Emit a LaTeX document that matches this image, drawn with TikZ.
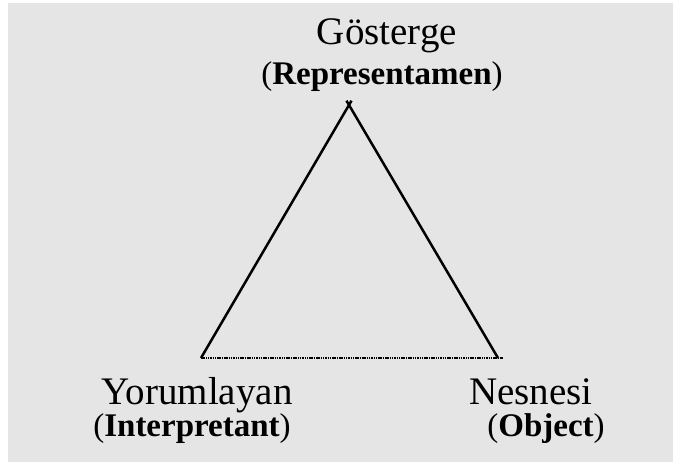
\documentclass[tikz,border=0pt]{standalone}
\usepackage{fontspec}
\setmainfont{Liberation Serif}
\usepackage{xcolor}
\definecolor{scangray}{HTML}{E5E5E5}
\usepackage{tikz}
\usetikzlibrary{positioning}

\begin{document}
\begin{tikzpicture}[x=1pt, y=1pt,
      term/.style={anchor=base, inner sep=0pt, font=\fontsize{39}{41}\selectfont},
      gloss/.style={anchor=base, inner sep=0pt, font=\fontsize{33}{35}\selectfont},
      side/.style={line width=2.5pt},
      base/.style={line width=2.2pt, dash pattern=on 1.5pt off 0.8pt}
    ]
    \useasboundingbox (0,0) rectangle (673,462);
    \fill[white] (0,0) rectangle (673,462);
    \fill[scangray] (8,0) rectangle (673,459);
    \coordinate (rep) at (349,357);
    \coordinate (int) at (201,104);
    \coordinate (obj) at (498,104);
    \coordinate (objend) at (503,104);
    \node[term] (gosterge) at (387,417) {Gösterge};
    \node[gloss] (representamen) at (382,377) {(\textbf{Representamen})};
    \node[term] (yorumlayan) at (197,57) {Yorumlayan};
    \node[gloss] (interpretant) at (192,25) {(\textbf{Interpretant})};
    \node[term] (nesnesi) at (531,57) {Nesnesi};
    \node[gloss] (object) at (546,25) {(\textbf{Object})};
    \draw[side, shorten >=-5pt] (int) -- (rep);
    \draw[side, shorten >=-5pt] (obj) -- (rep);
    \draw[base] (int) -- (objend);
  \end{tikzpicture}
\end{document}
